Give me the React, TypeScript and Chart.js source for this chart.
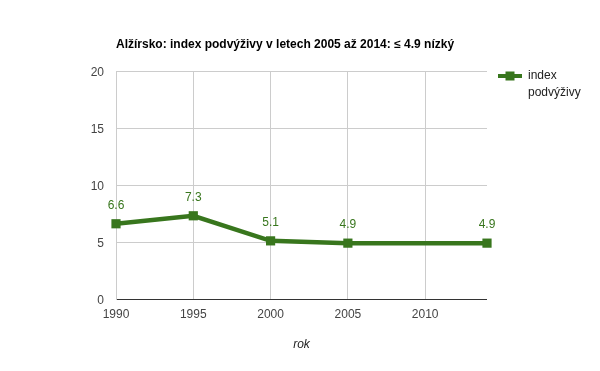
import React, { useEffect, useRef } from "react";
import { Chart, registerables } from "chart.js";

Chart.register(...registerables);

const TITLE = "Alžírsko: index podvýživy v letech 2005 až 2014: ≤ 4.9 nízký";
const SERIES_NAME = ["index", "podvýživy"];
const X_TITLE = "rok";
const years = [1990, 1995, 2000, 2005, 2014];
const values = [6.6, 7.3, 5.1, 4.9, 4.9];
const valueLabels = ["6.6", "7.3", "5.1", "4.9", "4.9"];
const yTicks = [0, 5, 10, 15, 20];
const xTicks = [1990, 1995, 2000, 2005, 2010];

const GREEN = "#38761d";
const FONT = "Arial, 'Liberation Sans', sans-serif";

const overlay = {
  id: "overlay",
  afterDraw(chart: any) {
    const ctx = chart.ctx;
    const area = chart.chartArea;
    ctx.save();
    // title
    ctx.font = `bold 12px ${FONT}`;
    ctx.fillStyle = "#000";
    ctx.textAlign = "left";
    ctx.textBaseline = "middle";
    ctx.fillText(TITLE, area.left, 45);
    // x-axis title
    ctx.font = `italic 12px ${FONT}`;
    ctx.fillStyle = "#222";
    ctx.textAlign = "center";
    ctx.fillText(X_TITLE, (area.left + area.right) / 2, 345);
    // data labels
    const meta = chart.getDatasetMeta(0);
    ctx.font = `12px ${FONT}`;
    ctx.fillStyle = GREEN;
    ctx.textAlign = "center";
    meta.data.forEach((pt: any, i: number) => {
      ctx.fillText(valueLabels[i], pt.x, pt.y - 18);
    });
    // legend
    const ly = 76;
    ctx.strokeStyle = GREEN;
    ctx.lineWidth = 4;
    ctx.beginPath();
    ctx.moveTo(498, ly);
    ctx.lineTo(522, ly);
    ctx.stroke();
    ctx.fillStyle = GREEN;
    ctx.fillRect(510 - 4.5, ly - 4.5, 9, 9);
    ctx.font = `12px ${FONT}`;
    ctx.fillStyle = "#222";
    ctx.textAlign = "left";
    ctx.fillText(SERIES_NAME[0], 528, ly);
    ctx.fillText(SERIES_NAME[1], 528, ly + 17);
    ctx.restore();
  },
};

export default function App() {
  const ref = useRef<HTMLCanvasElement>(null);
  useEffect(() => {
    if (!ref.current) return;
    const chart = new Chart(ref.current, {
      type: "line",
      data: {
        datasets: [
          {
            label: SERIES_NAME.join(" "),
            data: years.map((y, i) => ({ x: y, y: values[i] })),
            borderColor: GREEN,
            backgroundColor: GREEN,
            borderWidth: 4.5,
            pointStyle: "rect",
            pointRadius: 6.5,
            pointBorderWidth: 0,
            pointBackgroundColor: GREEN,
            tension: 0,
            clip: false as any,
          },
        ],
      },
      options: {
        responsive: false,
        animation: false,
        layout: { padding: { top: 71, right: 113, left: 0, bottom: 0 } },
        plugins: {
          legend: { display: false },
          title: { display: false },
          tooltip: { enabled: false },
        },
        scales: {
          x: {
            type: "linear",
            min: 1990,
            max: 2014,
            afterFit: (s: any) => {
              s.height = 72;
            },
            afterBuildTicks: (s: any) => {
              s.ticks = xTicks.map((v) => ({ value: v }));
            },
            ticks: {
              callback: (v: any) => String(v),
              font: { family: FONT, size: 12 },
              color: "#444",
              padding: 8,
              maxRotation: 0,
            },
            grid: { color: "#cccccc", drawTicks: false, lineWidth: 1 },
            border: { display: false },
          },
          y: {
            min: 0,
            max: 20,
            afterFit: (s: any) => {
              s.width = 116;
            },
            afterBuildTicks: (s: any) => {
              s.ticks = yTicks.map((v) => ({ value: v }));
            },
            ticks: {
              font: { family: FONT, size: 12 },
              color: "#444",
              padding: 12,
              labelOffset: 1.5,
            },
            grid: {
              color: (c: any) => (c.tick && c.tick.value === 0 ? "#333333" : "#cccccc"),
              drawTicks: false,
              lineWidth: 1,
            },
            border: { display: true, color: "#cccccc" },
          },
        },
      },
      plugins: [overlay],
    });
    return () => chart.destroy();
  }, []);
  return (
    <div style={{ position: "fixed", left: 0, top: 0, width: 600, height: 371, background: "#fff" }}>
      <canvas ref={ref} width={600} height={371} style={{ width: 600, height: 371 }} />
    </div>
  );
}
